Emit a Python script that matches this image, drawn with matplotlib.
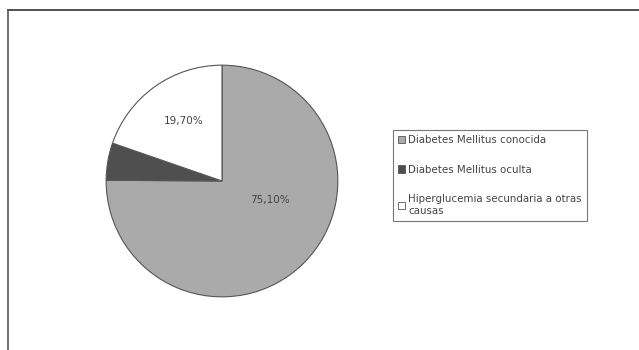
import matplotlib.pyplot as plt
from matplotlib.lines import Line2D
from matplotlib.patches import Patch

# data
labels = ["Diabetes Mellitus conocida", "Diabetes Mellitus oculta",
          "Hiperglucemia secundaria a otras\ncausas"]
values = [75.10, 5.20, 19.70]
shown = [True, False, True]
colors = ["#aaaaaa", "#4f4f4f", "#ffffff"]

fig = plt.figure(figsize=(6.39, 3.5), dpi=100)
fig.patch.set_facecolor("white")

# outer frame (top and left edges only visible)
fig.add_artist(Line2D([8 / 639, 1.0], [1 - 10 / 350, 1 - 10 / 350],
                      transform=fig.transFigure, color="#333333", lw=1.2))
fig.add_artist(Line2D([8 / 639, 8 / 639], [0.0, 1 - 10 / 350],
                      transform=fig.transFigure, color="#555555", lw=1.2))

ax = fig.add_axes([105 / 639, 52 / 350, 234 / 639, 234 / 350])
wedges, _ = ax.pie(values, colors=colors, startangle=90, counterclock=False,
                   radius=1.0, wedgeprops=dict(edgecolor="#555555", linewidth=0.8))
ax.set_xlim(-1.01, 1.01)
ax.set_ylim(-1.01, 1.01)
ax.set_aspect("equal")
ax.axis("off")

# percentage labels
label_pos = [(0.41, -0.16), None, (-0.33, 0.52)]
for v, s, pos in zip(values, shown, label_pos):
    if s:
        txt = f"{v:.2f}%".replace(".", ",")
        ax.text(pos[0], pos[1], txt, ha="center", va="center",
                fontsize=7.5, color="#444444")

handles = [Patch(facecolor=c, edgecolor="#555555", linewidth=0.6) for c in colors]
leg = fig.legend(handles, labels, loc="upper left",
                 bbox_to_anchor=(393 / 639, 1 - 130 / 350), borderaxespad=0,
                 fontsize=7.4, frameon=True, fancybox=False,
                 handlelength=0.7, handleheight=0.7, handletextpad=0.3,
                 labelspacing=1.9, borderpad=0.5, labelcolor="#444444")
leg.get_frame().set_edgecolor("#555555")
leg.get_frame().set_linewidth(0.8)

fig.savefig("out.png", dpi=100)
